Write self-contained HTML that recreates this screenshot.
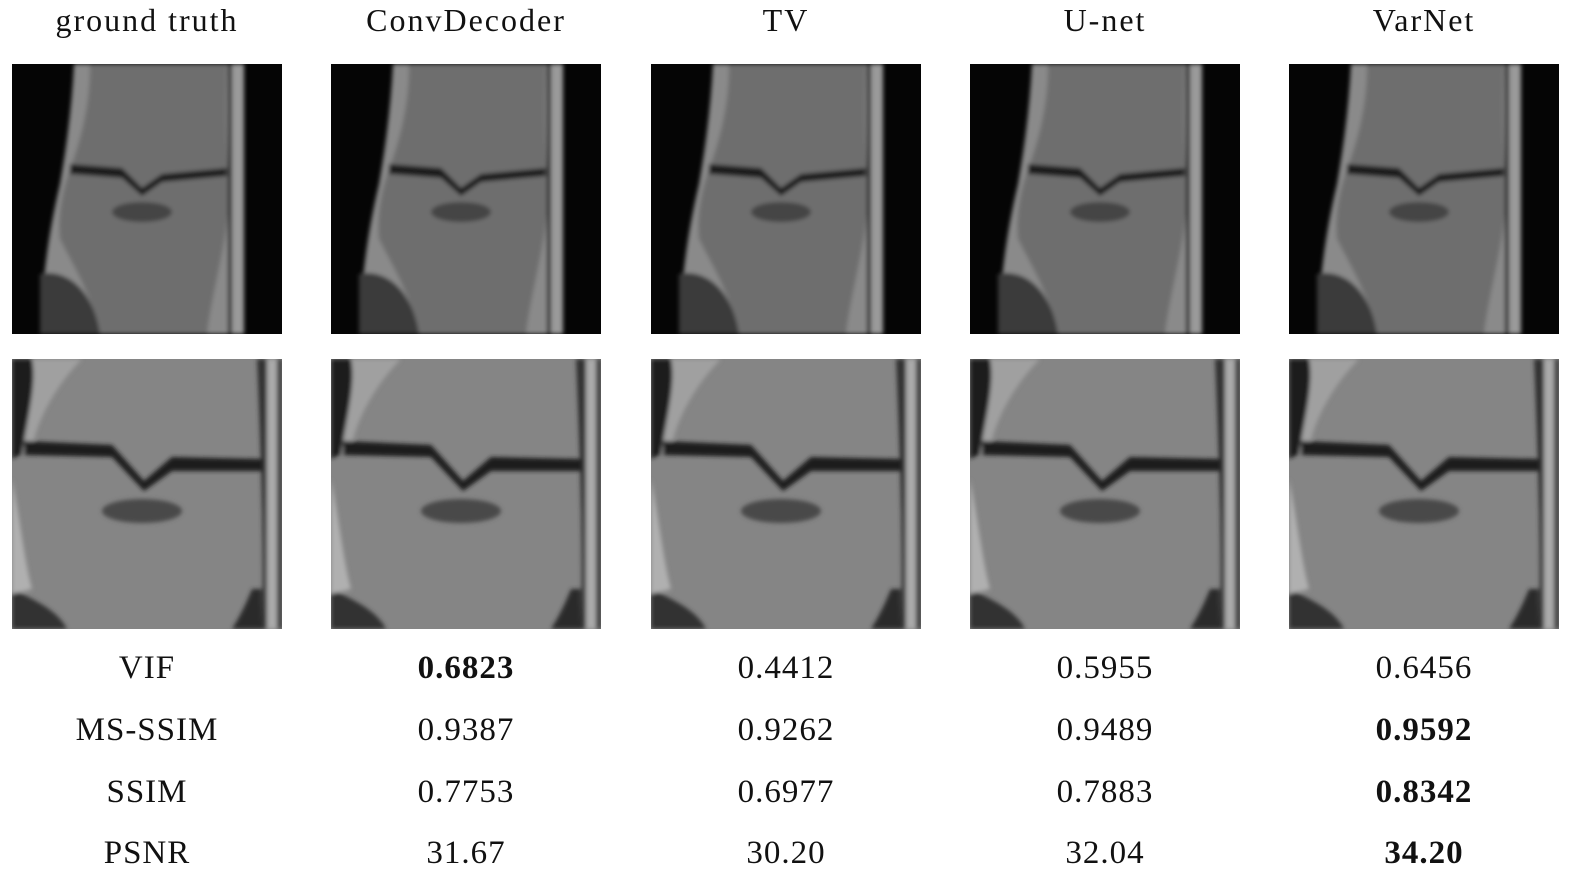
<!DOCTYPE html>
<html><head><meta charset="utf-8"><style>
body{margin:0;width:1576px;height:879px;background:#fff;position:relative;overflow:hidden;font-family:"Liberation Serif",serif;color:#111}
.t{position:absolute;width:270px;text-align:center;font-size:33px;line-height:1;letter-spacing:1px}
.h{letter-spacing:2px;font-size:32px}
svg.im{position:absolute;width:270px;height:270px}
b{font-weight:bold}
</style></head><body>
<svg width="0" height="0" style="position:absolute">
<defs>
<filter id="bl"><feGaussianBlur stdDeviation="2"/></filter>
<symbol id="top" viewBox="0 0 270 270">
<rect width="270" height="270" fill="#050505"/>
<g filter="url(#bl)">
<path d="M62,0 L230,0 L232,270 L30,270 C28,230 36,170 48,120 C55,80 60,40 62,0Z" fill="#8a8a8a"/>
<path d="M78,0 L215,0 C214,40 214,70 216,100 L216,150 C212,190 200,230 195,270 L88,270 C80,230 60,200 48,175 C45,150 52,120 60,100 C70,70 78,40 78,0Z" fill="#6e6e6e"/>
<path d="M28,210 C50,205 80,220 88,270 L28,270Z" fill="#3a3a3a"/>
<path d="M58,100 L110,104 L130,124 L150,110 L215,104 L215,112 L150,118 L130,132 L110,114 L58,110Z" fill="#1e1e1e"/>
<ellipse cx="130" cy="148" rx="30" ry="10" fill="#444"/>
<rect x="220" y="0" width="12" height="270" fill="#9a9a9a"/>
<rect x="216" y="0" width="4" height="270" fill="#222"/>
</g>
</symbol>
<symbol id="bot" viewBox="0 0 270 270">
<rect width="270" height="270" fill="#858585"/>
<g filter="url(#bl)">
<path d="M0,0 L70,0 C40,20 15,60 10,95 L0,100Z" fill="#1a1a1a"/>
<path d="M20,0 L70,0 C45,25 25,60 20,90 L10,95 C15,60 25,25 20,0Z" fill="#a0a0a0"/>
<path d="M245,0 L270,0 L270,270 L250,270 C252,200 250,120 245,0Z" fill="#333"/>
<rect x="255" y="0" width="10" height="270" fill="#aaa"/>
<path d="M12,82 L100,86 L132,122 L160,98 L250,100 L250,112 L160,112 L132,132 L100,98 L12,96Z" fill="#1a1a1a"/>
<ellipse cx="130" cy="152" rx="40" ry="12" fill="#4a4a4a"/>
<path d="M0,230 C20,240 45,250 55,270 L0,270Z" fill="#333"/>
<path d="M0,120 C8,160 12,200 20,230 L0,235Z" fill="#b0b0b0"/>
<path d="M240,230 C232,250 225,262 220,270 L250,270 L250,230Z" fill="#2a2a2a"/>
</g>
</symbol>
</defs></svg>

<div class="t h" style="left:12px;top:4px">ground truth</div>
<div class="t h" style="left:331px;top:4px">ConvDecoder</div>
<div class="t h" style="left:651px;top:4px">TV</div>
<div class="t h" style="left:970px;top:4px">U-net</div>
<div class="t h" style="left:1289px;top:4px">VarNet</div>

<svg class="im" style="left:12px;top:64px"><use href="#top"/></svg>
<svg class="im" style="left:331px;top:64px"><use href="#top"/></svg>
<svg class="im" style="left:651px;top:64px"><use href="#top"/></svg>
<svg class="im" style="left:970px;top:64px"><use href="#top"/></svg>
<svg class="im" style="left:1289px;top:64px"><use href="#top"/></svg>
<svg class="im" style="left:12px;top:359px"><use href="#bot"/></svg>
<svg class="im" style="left:331px;top:359px"><use href="#bot"/></svg>
<svg class="im" style="left:651px;top:359px"><use href="#bot"/></svg>
<svg class="im" style="left:970px;top:359px"><use href="#bot"/></svg>
<svg class="im" style="left:1289px;top:359px"><use href="#bot"/></svg>

<div class="t" style="left:12px;top:652px">VIF</div>
<div class="t" style="left:331px;top:652px"><b>0.6823</b></div>
<div class="t" style="left:651px;top:652px">0.4412</div>
<div class="t" style="left:970px;top:652px">0.5955</div>
<div class="t" style="left:1289px;top:652px">0.6456</div>

<div class="t" style="left:12px;top:714px">MS-SSIM</div>
<div class="t" style="left:331px;top:714px">0.9387</div>
<div class="t" style="left:651px;top:714px">0.9262</div>
<div class="t" style="left:970px;top:714px">0.9489</div>
<div class="t" style="left:1289px;top:714px"><b>0.9592</b></div>

<div class="t" style="left:12px;top:776px">SSIM</div>
<div class="t" style="left:331px;top:776px">0.7753</div>
<div class="t" style="left:651px;top:776px">0.6977</div>
<div class="t" style="left:970px;top:776px">0.7883</div>
<div class="t" style="left:1289px;top:776px"><b>0.8342</b></div>

<div class="t" style="left:12px;top:837px">PSNR</div>
<div class="t" style="left:331px;top:837px">31.67</div>
<div class="t" style="left:651px;top:837px">30.20</div>
<div class="t" style="left:970px;top:837px">32.04</div>
<div class="t" style="left:1289px;top:837px"><b>34.20</b></div>
</body></html>
